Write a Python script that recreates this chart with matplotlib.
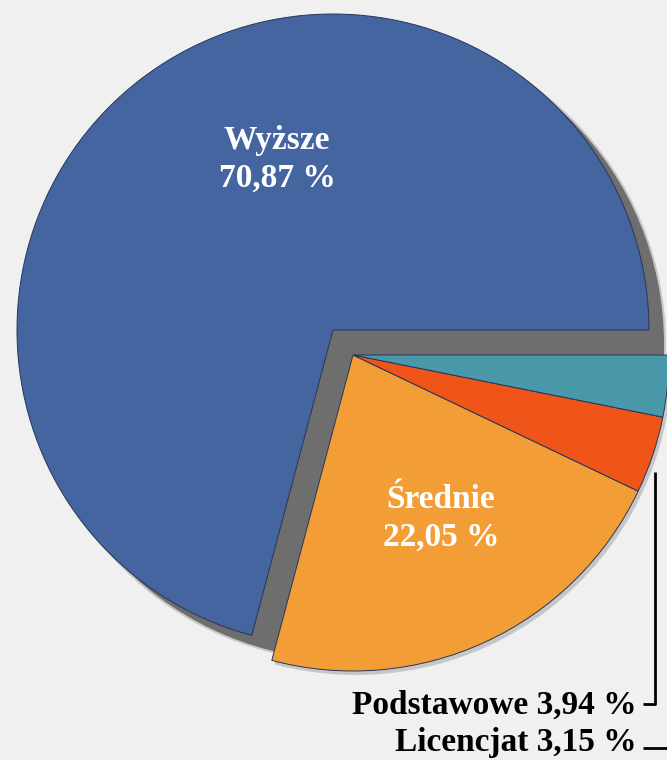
'''
Pie chart of education levels (Polish labels), exploded lower-right group with shadows
'''

import numpy as np
import matplotlib.pyplot as plt
import matplotlib as mpl
from matplotlib.patches import Wedge, Circle

# data
labels = ['Wyższe', 'Średnie', 'Podstawowe', 'Licencjat']
values = [70.87, 22.05, 3.94, 3.15]
valuetexts = ['70,87 %', '22,05 %', '3,94 %', '3,15 %']

colours = ['#4465a0', '#f39d36', '#ef5419', '#4999aa']
bgcolour = '#f0f0f0'
shadowcolour = '#6e6e6e'
edgecolour = '#27365a'

W, H = 667, 760
fs = 24

mpl.rcParams['font.family'] = ['Liberation Serif', 'DejaVu Serif']

fig = plt.figure(figsize=(W/100, H/100), dpi=100, facecolor=bgcolour)
ax = fig.add_axes([0, 0, 1, 1])
ax.set_facecolor(bgcolour)

# pie geometry in pixel coordinates (y up)
cx, cy = 333, 430
radius = 316
shift = (20, -25)       # whole lower-right group is pulled out together
shadow_off = (15, -14)

wedges, _ = ax.pie(values, startangle=0, counterclock=True, radius=radius,
                   center=(cx, cy), colors=colours,
                   wedgeprops=dict(edgecolor=edgecolour, linewidth=0.7))

for i, w in enumerate(wedges):
    if i > 0:
        w.set_center((cx + shift[0], cy + shift[1]))
    w.set_zorder(3)

group_t1 = wedges[1].theta1
group_t2 = wedges[-1].theta2

# shadow of the whole pie (soft rim, then solid)
ax.add_patch(Circle((cx + shadow_off[0], cy + shadow_off[1]), radius + 2,
                    facecolor='#a0a0a0', edgecolor='none', alpha=0.5, zorder=1.0))
ax.add_patch(Circle((cx + shadow_off[0], cy + shadow_off[1]), radius,
                    facecolor=shadowcolour, edgecolor='none', zorder=1.2))
# the hole left by the pulled out group is in shade too
ax.add_patch(Wedge((cx, cy), radius, group_t1, group_t2,
                   facecolor=shadowcolour, edgecolor='none', zorder=1.3))
# faint shadow of the pulled out group
ax.add_patch(Wedge((cx + shift[0] + 3, cy + shift[1] - 4), radius,
                   group_t1, group_t2, facecolor='#b5b5b5',
                   edgecolor='none', alpha=0.7, zorder=1.1))

ax.set_xlim(0, W)
ax.set_ylim(0, H)
ax.set_aspect('equal')
ax.axis('off')

# labels inside slices
ax.text(277, H-140, labels[0], ha='center', va='center', color='white',
        fontsize=fs, fontweight='bold', zorder=5)
ax.text(277, H-178, valuetexts[0], ha='center', va='center', color='white',
        fontsize=fs, fontweight='bold', zorder=5)
ax.text(441, H-499, labels[1], ha='center', va='center', color='white',
        fontsize=fs, fontweight='bold', zorder=5)
ax.text(441, H-537, valuetexts[1], ha='center', va='center', color='white',
        fontsize=fs, fontweight='bold', zorder=5)

# outside labels with leader lines
ax.text(637, H-705, labels[2] + ' ' + valuetexts[2], ha='right', va='center',
        color='black', fontsize=fs, fontweight='bold', zorder=5)
ax.text(637, H-743, labels[3] + ' ' + valuetexts[3], ha='right', va='center',
        color='black', fontsize=fs, fontweight='bold', zorder=5)
ax.plot([643, 655, 655], [H-704, H-704, H-472], color='black', lw=2, zorder=4,
        solid_capstyle='butt')
ax.plot([643, 667], [H-748, H-748], color='black', lw=2, zorder=4,
        solid_capstyle='butt')

fig.savefig('out.png', dpi=100, facecolor=bgcolour)
